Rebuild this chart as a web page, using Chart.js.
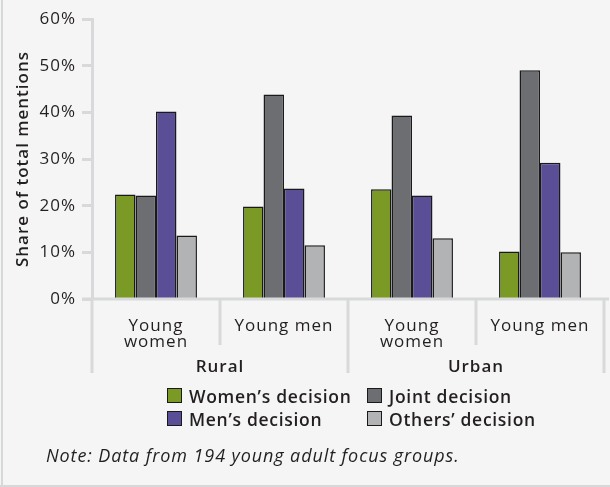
<!DOCTYPE html>
<html>
<head>
<meta charset="utf-8">
<script src="https://cdn.jsdelivr.net/npm/chart.js@4/dist/chart.umd.min.js"></script>
<style>
  html, body { margin: 0; padding: 0; background: #f5f5f5; }
  #wrap { position: relative; width: 610px; height: 487px; background: #f5f5f5; overflow: hidden; }
  #wrap:before { content: ""; position: absolute; left: 1px; top: 0; width: 2px; height: 487px; background: #d7d8d9; }
  #wrap:after { content: ""; position: absolute; left: 0; bottom: 0; width: 610px; height: 2px; background: #d7d8d9; }
  canvas { position: absolute; left: 0; top: 0; }
  .leg { position: absolute; font-family: "Open Sans", sans-serif; font-weight: 600; font-size: 17.5px; letter-spacing: 0.7px; color: #231f20; white-space: nowrap; line-height: 20px; }
  .leg .box { position: absolute; left: 0; top: 2px; width: 13px; height: 13px; border: 1.5px solid #1a1a1a; }
  .leg .txt { position: absolute; left: 22px; top: 0; }
  #note { position: absolute; left: 46px; top: 443px; font-family: "Open Sans", sans-serif; font-style: italic; font-size: 18px; letter-spacing: 0.9px; color: #231f20; white-space: nowrap; }
</style>
</head>
<body>
<div id="wrap">
  <canvas id="c" width="610" height="487"></canvas>
  <div id="legend"></div>
  <div id="note">Note: Data from 194 young adult focus groups.</div>
</div>
<script>
// ---- data ----
const categories = [["Young", "women"], ["Young men"], ["Young", "women"], ["Young men"]];
const groups = ["Rural", "Urban"];
const seriesNames = ["Women\u2019s decision", "Joint decision", "Men\u2019s decision", "Others\u2019 decision"];
const womensDecision = [22.4, 19.8, 23.5, 10.2];
const jointDecision = [22.2, 43.8, 39.3, 49.0];
const mensDecision = [40.2, 23.7, 22.2, 29.2];
const othersDecision = [13.6, 11.5, 13.0, 10.0];
const yTicks = [0, 10, 20, 30, 40, 50, 60];

const colors = ["#7a9a25", "#6d6e71", "#5a4e96", "#b2b3b5"];
const values = [womensDecision, jointDecision, mensDecision, othersDecision];
const axisColor = "#d8d9da";
const textColor = "#231f20";
const FONT = "'Open Sans', sans-serif";

// legend (HTML, 2 columns)
const legendPos = [[167, 386], [367, 386], [167, 409], [367, 409]];
const legendEl = document.getElementById("legend");
seriesNames.forEach((name, i) => {
  const d = document.createElement("div");
  d.className = "leg";
  d.style.left = legendPos[i][0] + "px";
  d.style.top = legendPos[i][1] + "px";
  d.innerHTML = '<span class="box" style="background:' + colors[i] + '"></span><span class="txt">' + name + '</span>';
  legendEl.appendChild(d);
});

function spacing(chart) {
  try { chart.ctx.letterSpacing = "1px"; } catch (e) {}
}

const structurePlugin = {
  id: "structure",
  beforeInit: spacing,
  beforeUpdate: spacing,
  beforeLayout: spacing,
  beforeDraw: spacing,
  afterDraw(chart) {
    const ctx = chart.ctx;
    const xs = chart.scales.x, ys = chart.scales.y;
    const y0 = ys.getPixelForValue(0);
    const n = categories.length;
    const catW = (xs.right - xs.left) / n;
    ctx.save();
    ctx.strokeStyle = axisColor;
    ctx.lineWidth = 3;
    // baseline
    ctx.beginPath();
    ctx.moveTo(xs.left - 10, y0);
    ctx.lineTo(609, y0);
    ctx.stroke();
    // dividers
    for (let k = 0; k <= n; k++) {
      const x = xs.left + k * catW;
      const long = (k % 2 === 0);
      ctx.beginPath();
      ctx.moveTo(x, y0);
      ctx.lineTo(x, long ? 373 : 345);
      ctx.stroke();
    }
    // group labels
    ctx.fillStyle = textColor;
    ctx.font = "600 17px " + FONT;
    ctx.textAlign = "center";
    ctx.textBaseline = "middle";
    groups.forEach((g, i) => {
      const cx = (xs.getPixelForValue(i * 2) + xs.getPixelForValue(i * 2 + 1)) / 2;
      ctx.fillText(g, cx, 367);
    });
    ctx.restore();
  }
};

new Chart(document.getElementById("c"), {
  type: "bar",
  data: {
    labels: categories,
    datasets: seriesNames.map((name, i) => ({
      label: name,
      data: values[i],
      backgroundColor: colors[i],
      borderColor: "#1a1a1a",
      borderWidth: 1.5,
      categoryPercentage: 0.64,
      barPercentage: 1.0
    }))
  },
  options: {
    responsive: false,
    animation: false,
    devicePixelRatio: 1,
    layout: { padding: { top: 19, right: 6, left: 0, bottom: 0 } },
    plugins: { legend: { display: false }, tooltip: { enabled: false } },
    scales: {
      x: {
        grid: { display: false, drawTicks: false },
        border: { display: false },
        ticks: {
          color: textColor,
          font: { family: FONT, size: 17, lineHeight: 0.95 },
          padding: 19,
          maxRotation: 0, autoSkip: false
        },
        afterFit(scale) { scale.height = 188; }
      },
      y: {
        min: 0, max: 60,
        afterBuildTicks(scale) { scale.ticks = yTicks.map(v => ({ value: v })); },
        grid: { drawOnChartArea: false, tickLength: 10, tickWidth: 3, tickColor: axisColor },
        border: { display: true, color: axisColor, width: 3 },
        ticks: {
          color: textColor,
          font: { family: FONT, size: 17 },
          padding: 6,
          callback: v => v + "%"
        },
        title: {
          display: true,
          text: "Share of total mentions",
          color: textColor,
          font: { family: FONT, size: 17, weight: "600" },
          padding: { top: 13, bottom: 0 }
        },
        afterFit(scale) { scale.width = 92; }
      }
    }
  },
  plugins: [structurePlugin]
});
</script>
</body>
</html>
